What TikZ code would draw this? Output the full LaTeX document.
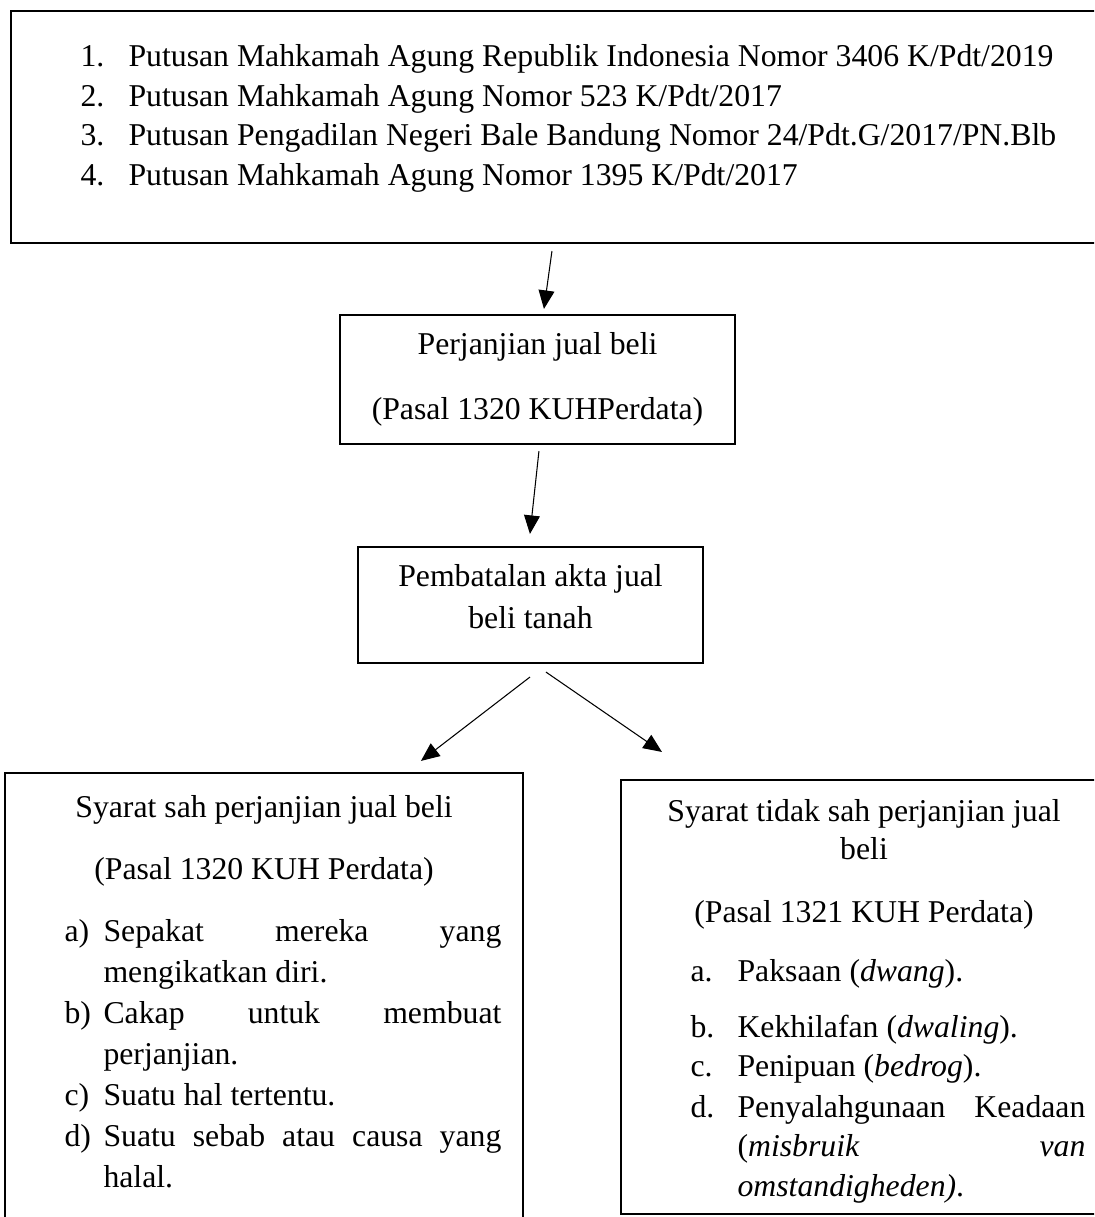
\documentclass[tikz,border=0pt]{standalone}
\usepackage{fontspec}
\setmainfont{Liberation Serif}
\usetikzlibrary{positioning,fit,calc,arrows.meta}
\tikzset{dbox/.style={draw, line width=0.8pt, inner sep=0pt}}
\tikzset{dtxt/.style={inner sep=0pt, anchor=base west, font=\fontsize{12pt}{14pt}\selectfont}}
\tikzset{dmid/.style={dtxt, anchor=base}}
\tikzset{arr/.style={draw, line width=0.4pt, -{Triangle[length=7pt,width=6pt]}}}
\newcommand{\jline}[2]{\makebox[#1][s]{#2}}

\begin{document}
\begin{tikzpicture}[x=0.378pt, y=-0.378pt]
			\useasboundingbox (0,0) rectangle (1094,1217);
			\clip (0,0) rectangle (1094,1217);
			\node[dbox, fit={(11,11) (1105,243)}] (putusan) {};
			\node[dbox, fit={(340,315) (735,444)}] (jualbeli) {};
			\node[dbox, fit={(358,547) (703,663)}] (batal) {};
			\node[dbox, fit={(5,773) (523,1230)}] (sah) {};
			\node[dbox, fit={(621,780) (1107,1214)}] (tidaksah) {};
			% daftar putusan
			\node[dtxt] (n1) at (80,67) {1.};
			\node[dtxt] (p1) at (128,67) {Putusan Mahkamah Agung Republik Indonesia Nomor 3406 K/Pdt/2019};
			\node[dtxt] (n2) at (80,107) {2.};
			\node[dtxt] (p2) at (128,107) {Putusan Mahkamah Agung Nomor 523 K/Pdt/2017};
			\node[dtxt] (n3) at (80,146) {3.};
			\node[dtxt] (p3) at (128,146) {Putusan Pengadilan Negeri Bale Bandung Nomor 24/Pdt.G/2017/PN.Blb};
			\node[dtxt] (n4) at (80,186) {4.};
			\node[dtxt] (p4) at (128,186) {Putusan Mahkamah Agung Nomor 1395 K/Pdt/2017};
			\node[dmid] (jb1) at (537.5,355) {Perjanjian jual beli};
			\node[dmid] (jb2) at (537.5,420) {(Pasal 1320 KUHPerdata)};
			\node[dmid] (bt1) at (530.5,587) {Pembatalan akta jual};
			\node[dmid] (bt2) at (530.5,628) {beli tanah};
			% syarat sah
			\node[dmid] (sh1) at (264,817) {Syarat sah perjanjian jual beli};
			\node[dmid] (sh2) at (264,879) {(Pasal 1320 KUH Perdata)};
			\node[dtxt] (la) at (64,941) {a)};
			\node[dtxt] (sa1) at (103,941) {\jline{150.4pt}{Sepakat mereka yang}};
			\node[dtxt] (sa2) at (103,982) {mengikatkan diri.};
			\node[dtxt] (lb) at (64,1023) {b)};
			\node[dtxt] (sb1) at (103,1023) {\jline{150.4pt}{Cakap untuk membuat}};
			\node[dtxt] (sb2) at (103,1064) {perjanjian.};
			\node[dtxt] (lc) at (64,1105) {c)};
			\node[dtxt] (sc1) at (103,1105) {Suatu hal tertentu.};
			\node[dtxt] (ld) at (64,1146) {d)};
			\node[dtxt] (sd1) at (103,1146) {\jline{150.4pt}{Suatu sebab atau causa yang}};
			\node[dtxt] (sd2) at (103,1187) {halal.};
			% syarat tidak sah
			\node[dmid] (ts1) at (864,821) {Syarat tidak sah perjanjian jual};
			\node[dmid] (ts2) at (864,859) {beli};
			\node[dmid] (ts3) at (864,922) {(Pasal 1321 KUH Perdata)};
			\node[dtxt] (ma) at (690,981) {a.};
			\node[dtxt] (ta1) at (737,981) {Paksaan (\textit{dwang}).};
			\node[dtxt] (mb) at (690,1037) {b.};
			\node[dtxt] (tb1) at (737,1037) {Kekhilafan (\textit{dwaling}).};
			\node[dtxt] (mc) at (690,1076) {c.};
			\node[dtxt] (tc1) at (737,1076) {Penipuan (\textit{bedrog}).};
			\node[dtxt] (md) at (690,1117) {d.};
			\node[dtxt] (td1) at (737,1117) {\jline{131.5pt}{Penyalahgunaan Keadaan}};
			\node[dtxt] (td2) at (737,1156) {\jline{131.5pt}{(\textit{misbruik} \textit{van}}};
			\node[dtxt] (td3) at (737,1196) {\textit{omstandigheden)}.};
			\draw[arr] ($(putusan.south west)+(542,7)$) -- ($(jualbeli.north west)+(205,-5)$);
			\draw[arr] ($(jualbeli.south west)+(200,6)$) -- ($(batal.north west)+(173,-12)$);
			\draw[arr] ($(batal.south west)+(173,13)$) -- ($(sah.north west)+(417,-11)$);
			\draw[arr] ($(batal.south west)+(189,8)$) -- ($(tidaksah.north west)+(42,-27)$);
		\end{tikzpicture}
\end{document}
